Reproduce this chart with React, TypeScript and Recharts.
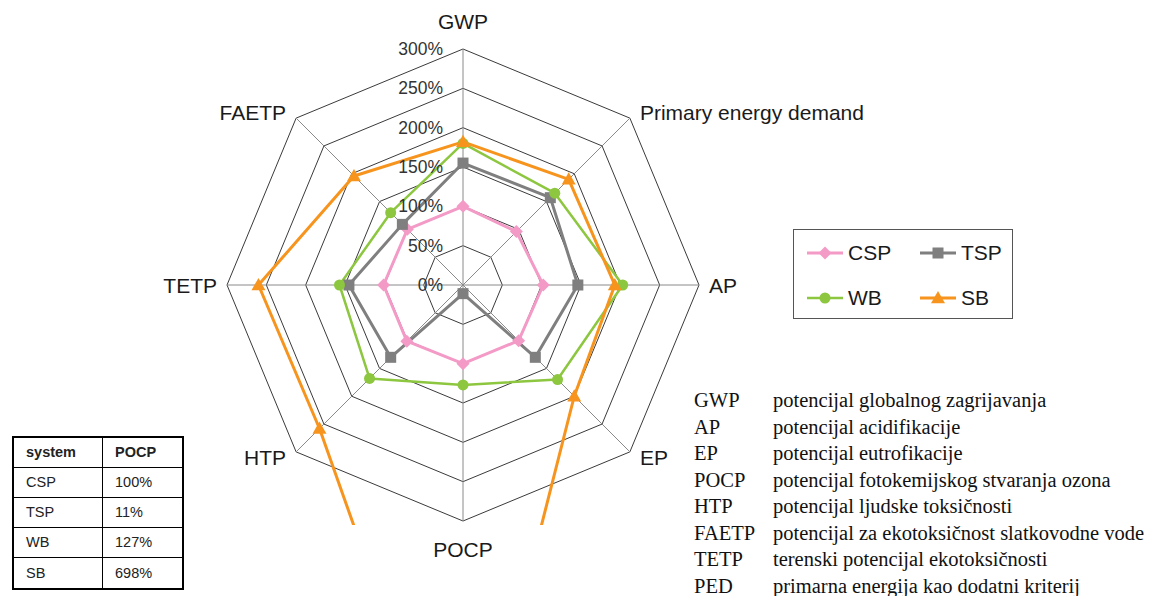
import React from 'react';
import { RadarChart, Radar, PolarGrid, PolarAngleAxis, PolarRadiusAxis, Legend } from 'recharts';

// ---- data ----
const categories = ['GWP', 'Primary energy demand', 'AP', 'EP', 'POCP', 'HTP', 'TETP', 'FAETP'];
const cspValues = [100, 96, 102, 100, 100, 101, 101, 100];
const tspValues = [155, 157, 146, 130, 11, 130, 145, 109];
const wbValues = [180, 165, 203, 170, 127, 168, 157, 130];
const sbValues = [182, 190, 193, 200, 698, 258, 260, 196];
const radiusTicks = [0, 50, 100, 150, 200, 250, 300];
const seriesNames = ['CSP', 'TSP', 'WB', 'SB'];
const tableHeader = ['system', 'POCP'];
const tableSystems = ['CSP', 'TSP', 'WB', 'SB'];
const tablePocp = ['100%', '11%', '127%', '698%'];
const abbreviations = ['GWP', 'AP', 'EP', 'POCP', 'HTP', 'FAETP', 'TETP', 'PED'];
const descriptions = [
  'potencijal globalnog zagrijavanja',
  'potencijal acidifikacije',
  'potencijal eutrofikacije',
  'potencijal fotokemijskog stvaranja ozona',
  'potencijal ljudske toksičnosti',
  'potencijal za ekotoksičnost slatkovodne vode',
  'terenski potencijal ekotoksičnosti',
  'primarna energija kao dodatni kriterij',
];

const data = categories.map((c, i) => ({
  axis: c,
  CSP: cspValues[i],
  TSP: tspValues[i],
  WB: wbValues[i],
  SB: sbValues[i],
}));

// ---- styles / layout ----
const CX = 463;
const CY = 285;
const R = 236;
const SANS = '"Liberation Sans", Arial, sans-serif';
const SERIF = '"Liberation Serif", "Times New Roman", serif';

const styles: Record<string, { color: string; width: number; marker: string }> = {
  CSP: { color: '#F39AC6', width: 3, marker: 'diamond' },
  TSP: { color: '#7F7F7F', width: 3, marker: 'square' },
  WB: { color: '#8DC63F', width: 2.5, marker: 'circle' },
  SB: { color: '#F7941D', width: 3, marker: 'triangle' },
};

function Marker({ kind, x, y, color }: { kind: string; x: number; y: number; color: string }) {
  if (kind === 'diamond') {
    const s = 6.5;
    return <polygon points={`${x},${y - s} ${x + s},${y} ${x},${y + s} ${x - s},${y}`} fill={color} />;
  }
  if (kind === 'square') {
    const s = 5.5;
    return <rect x={x - s} y={y - s} width={2 * s} height={2 * s} fill={color} />;
  }
  if (kind === 'circle') {
    return <circle cx={x} cy={y} r={5.5} fill={color} />;
  }
  const s = 7;
  return <polygon points={`${x},${y - s} ${x + s},${y + s * 0.75} ${x - s},${y + s * 0.75}`} fill={color} />;
}

function makeShape(name: string) {
  const st = styles[name];
  return (props: any) => {
    const pts = (props.points || []).map((p: any) => `${p.x},${p.y}`).join(' ');
    const id = `clip-${name}`;
    return (
      <g>
        <defs>
          <clipPath id={id}>
            <rect x={0} y={0} width={1156} height={CY + R + 4} />
          </clipPath>
        </defs>
        <polygon
          points={pts}
          fill="none"
          stroke={st.color}
          strokeWidth={st.width}
          strokeLinejoin="round"
          clipPath={`url(#${id})`}
        />
      </g>
    );
  };
}

function makeDot(name: string) {
  const st = styles[name];
  return (props: any) => {
    const { cx, cy, index } = props;
    if (cy > CY + R + 4) return <g key={`dot-${name}-${index}`} />;
    return (
      <g key={`dot-${name}-${index}`}>
        <Marker kind={st.marker} x={cx} y={cy} color={st.color} />
      </g>
    );
  };
}

function AngleTick(props: any) {
  const { payload } = props;
  const ang = (payload.coordinate * Math.PI) / 180;
  const cos = Math.cos(ang);
  const sin = Math.sin(ang);
  const vx = CX + R * cos;
  const vy = CY - R * sin;
  let x = vx;
  let y = vy;
  let anchor: 'start' | 'middle' | 'end' = 'middle';
  if (Math.abs(cos) < 0.1) {
    y = vy - sin * 28;
  } else {
    x = vx + Math.sign(cos) * 10;
    y = vy - sin * 8.5;
    anchor = cos > 0 ? 'start' : 'end';
  }
  return (
    <text x={x} y={y} textAnchor={anchor} dominantBaseline="central" fontFamily={SANS} fontSize={21} fill="#1a1a1a">
      {payload.value}
    </text>
  );
}

function RadiusTick(props: any) {
  const { x, y, payload } = props;
  return (
    <text x={CX - 20} y={y} textAnchor="end" dominantBaseline="central" fontFamily={SANS} fontSize={17.5} fill="#333">
      {`${payload.value}%`}
    </text>
  );
}

function LegendItem({ name }: { name: string }) {
  const st = styles[name];
  return (
    <div style={{ display: 'flex', alignItems: 'center', height: 24 }}>
      <svg width={40} height={20} style={{ display: 'block' }}>
        <line x1={2} y1={10} x2={38} y2={10} stroke={st.color} strokeWidth={st.width} />
        <Marker kind={st.marker} x={20} y={10} color={st.color} />
      </svg>
      <span style={{ fontFamily: SANS, fontSize: 21, color: '#1a1a1a', marginLeft: 3 }}>{name}</span>
    </div>
  );
}

function LegendBox() {
  return (
    <div
      style={{
        boxSizing: 'border-box',
        width: 220,
        height: 90,
        border: '1.5px solid #555',
        background: '#fff',
        display: 'grid',
        gridTemplateColumns: '113px 100px',
        gridTemplateRows: '45px 45px',
        paddingLeft: 11,
        alignItems: 'center',
      }}
    >
      {seriesNames.map((n) => (
        <LegendItem key={n} name={n} />
      ))}
    </div>
  );
}

export default function App() {
  const cell: React.CSSProperties = {
    border: '1px solid #000',
    padding: '0 0 0 12px',
    fontFamily: SANS,
    fontSize: 14.5,
    color: '#222',
    textAlign: 'left',
  };
  return (
    <div style={{ position: 'absolute', left: 0, top: 0, width: 1156, height: 596, background: '#fff' }}>
      <RadarChart
        width={1156}
        height={596}
        data={data}
        cx={CX}
        cy={CY}
        outerRadius={R}
        margin={{ top: 0, right: 0, bottom: 0, left: 0 }}
      >
        <PolarGrid gridType="polygon" stroke="#3a3a3a" strokeWidth={1} radialLines={false} />
        <PolarGrid gridType="polygon" stroke="#8a8a8a" strokeWidth={1} polarRadius={[]} />
        <PolarAngleAxis dataKey="axis" tick={<AngleTick />} axisLine={false} tickLine={false} />
        {seriesNames.map((n) => (
          <Radar
            key={n}
            name={n}
            dataKey={n}
            stroke={styles[n].color}
            fill="none"
            shape={makeShape(n)}
            dot={makeDot(n)}
            isAnimationActive={false}
          />
        ))}
        <PolarRadiusAxis
          angle={90}
          domain={[0, 300]}
          ticks={radiusTicks as any}
          tickCount={7}
          allowDataOverflow
          axisLine={false}
          tickLine={false}
          tick={<RadiusTick />}
        />
        <Legend
          content={() => <LegendBox />}
          wrapperStyle={{ position: 'absolute', left: 793, top: 229, width: 220, height: 90 }}
        />
      </RadarChart>

      <table
        style={{
          position: 'absolute',
          left: 12,
          top: 436,
          borderCollapse: 'collapse',
          border: '2px solid #000',
          width: 172,
        }}
      >
        <tbody>
          <tr style={{ height: 30 }}>
            <th style={{ ...cell, width: 76, fontWeight: 'bold' }}>{tableHeader[0]}</th>
            <th style={{ ...cell, fontWeight: 'bold' }}>{tableHeader[1]}</th>
          </tr>
          {tableSystems.map((s, i) => (
            <tr key={s} style={{ height: i === 3 ? 32 : 30 }}>
              <td style={cell}>{s}</td>
              <td style={cell}>{tablePocp[i]}</td>
            </tr>
          ))}
        </tbody>
      </table>

      <div style={{ position: 'absolute', left: 694, top: 389 }}>
        {abbreviations.map((a, i) => (
          <div key={a} style={{ position: 'relative', height: 26.5, fontFamily: SERIF, fontSize: 20.5, color: '#111', whiteSpace: 'nowrap' }}>
            <span style={{ position: 'absolute', left: 0, top: 0 }}>{a}</span>
            <span style={{ position: 'absolute', left: 79, top: 0 }}>{descriptions[i]}</span>
          </div>
        ))}
      </div>
    </div>
  );
}
